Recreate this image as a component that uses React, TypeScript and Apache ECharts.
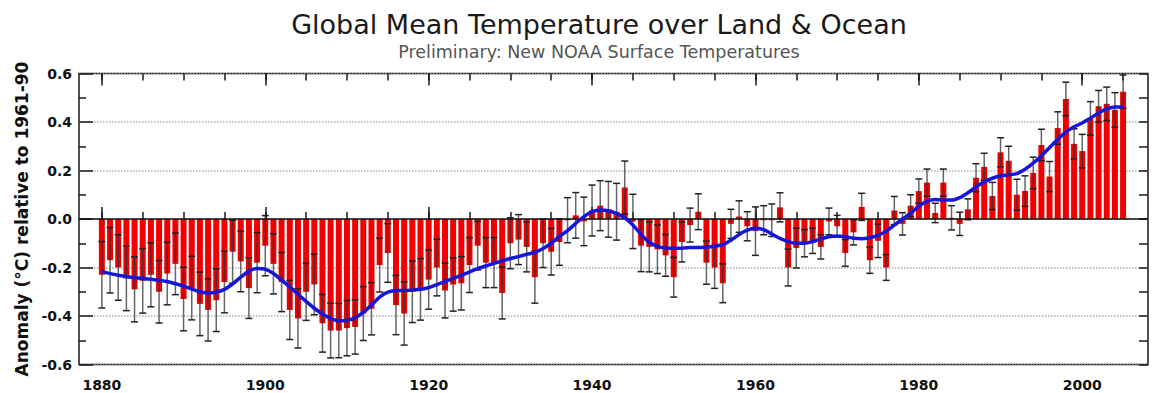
import React, { useEffect, useRef } from "react";
import * as echarts from "echarts";

// ---------- data ----------
const FIRST_YEAR = 1880;

// annual anomaly (°C, relative to 1961-90), 1880..2005
const anomalies = [
  -0.23, -0.17, -0.2, -0.245, -0.29, -0.255, -0.23, -0.3, -0.225, -0.185,
  -0.33, -0.285, -0.35, -0.375, -0.335, -0.26, -0.135, -0.175, -0.285, -0.18,
  -0.11, -0.185, -0.26, -0.375, -0.41, -0.3, -0.27, -0.43, -0.46, -0.46,
  -0.45, -0.445, -0.39, -0.37, -0.19, -0.14, -0.355, -0.39, -0.3, -0.29,
  -0.25, -0.2, -0.295, -0.27, -0.265, -0.19, -0.11, -0.18, -0.18, -0.305,
  -0.1, -0.085, -0.115, -0.24, -0.1, -0.135, -0.095, -0.005, 0.015, -0.01,
  0.035, 0.055, 0.04, 0.03, 0.13, -0.01, -0.11, -0.115, -0.125, -0.15,
  -0.24, -0.095, -0.025, 0.03, -0.18, -0.2, -0.265, -0.02, 0.01, -0.03,
  -0.05, -0.005, -0.005, 0.048, -0.2, -0.12, -0.1, -0.09, -0.115, -0.01,
  -0.03, -0.14, -0.055, 0.05, -0.17, -0.09, -0.2, 0.035, -0.02, 0.055,
  0.115, 0.15, 0.025, 0.15, 0.005, -0.02, 0.04, 0.17, 0.215, 0.095,
  0.275, 0.24, 0.1, 0.115, 0.19, 0.305, 0.175, 0.375, 0.495, 0.31,
  0.28, 0.415, 0.465, 0.475, 0.45, 0.525,
];

// half-width of the error bars, 1880..2005
const errors = [
  0.137, 0.135, 0.135, 0.133, 0.134, 0.133, 0.132, 0.129, 0.129, 0.127,
  0.131, 0.131, 0.131, 0.128, 0.129, 0.127, 0.13, 0.125, 0.125, 0.124,
  0.124, 0.124, 0.122, 0.122, 0.122, 0.118, 0.125, 0.119, 0.113, 0.112,
  0.114, 0.112, 0.111, 0.108, 0.111, 0.121, 0.122, 0.13, 0.127, 0.127,
  0.122, 0.117, 0.113, 0.11, 0.11, 0.113, 0.1, 0.103, 0.103, 0.107,
  0.105, 0.103, 0.103, 0.107, 0.1, 0.096, 0.096, 0.093, 0.094, 0.1,
  0.105, 0.103, 0.115, 0.117, 0.109, 0.112, 0.107, 0.103, 0.1, 0.086,
  0.082, 0.082, 0.07, 0.074, 0.089, 0.086, 0.08, 0.06, 0.065, 0.06,
  0.1, 0.06, 0.067, 0.06, 0.076, 0.082, 0.056, 0.052, 0.05, 0.055,
  0.045, 0.055, 0.052, 0.056, 0.054, 0.069, 0.053, 0.058, 0.046, 0.045,
  0.05, 0.056, 0.04, 0.056, 0.05, 0.048, 0.043, 0.058, 0.056, 0.056,
  0.06, 0.06, 0.064, 0.063, 0.065, 0.065, 0.062, 0.067, 0.069, 0.062,
  0.069, 0.069, 0.065, 0.069, 0.071, 0.069,
];

// smoothed curve (blue)
const smoothYears = [
  1880, 1882, 1884, 1886, 1888, 1890, 1892, 1893, 1894, 1895, 1896, 1897, 1898, 1899,
  1900, 1901, 1902, 1903, 1904, 1905, 1906, 1907, 1908, 1909, 1910, 1911, 1912, 1913,
  1914, 1915, 1916, 1917, 1918, 1919, 1920, 1922, 1924, 1926, 1928, 1930, 1932, 1933,
  1934, 1935, 1936, 1937, 1938, 1939, 1940, 1941, 1942, 1943, 1944, 1945, 1946, 1947,
  1948, 1949, 1950, 1952, 1954, 1955, 1956, 1957, 1958, 1959, 1960, 1961, 1962, 1963,
  1964, 1965, 1966, 1967, 1968, 1969, 1970, 1971, 1972, 1973, 1974, 1975, 1976, 1977,
  1978, 1979, 1980, 1981, 1982, 1983, 1984, 1985, 1986, 1987, 1988, 1989, 1990, 1991,
  1992, 1993, 1994, 1995, 1996, 1997, 1998, 1999, 2000, 2001, 2002, 2003, 2004, 2005,
];
const smoothValues = [
  -0.217, -0.232, -0.242, -0.248, -0.258, -0.277, -0.3, -0.305, -0.302, -0.29, -0.268, -0.24, -0.215, -0.204,
  -0.207, -0.225, -0.252, -0.28, -0.31, -0.34, -0.368, -0.392, -0.41, -0.42, -0.418, -0.408, -0.385, -0.355,
  -0.322, -0.302, -0.295, -0.295, -0.293, -0.29, -0.283, -0.258, -0.232, -0.205, -0.183, -0.163, -0.146, -0.138,
  -0.122, -0.1, -0.072, -0.048, -0.018, 0.01, 0.03, 0.037, 0.034, 0.022, 0.005, -0.025, -0.064, -0.096,
  -0.113, -0.12, -0.121, -0.118, -0.117, -0.112, -0.106, -0.088, -0.064, -0.046, -0.038, -0.044, -0.062, -0.08,
  -0.093, -0.1, -0.1, -0.093, -0.082, -0.073, -0.07, -0.073, -0.079, -0.081, -0.077, -0.068, -0.05, -0.025,
  0.0, 0.024, 0.053, 0.073, 0.08, 0.078, 0.078, 0.088, 0.108, 0.132, 0.153, 0.168, 0.178, 0.182,
  0.187, 0.205, 0.23, 0.26, 0.295, 0.328, 0.358, 0.38, 0.396, 0.416, 0.437, 0.454, 0.462, 0.462,
];

// tick positions / labels
const majorYears = [1880, 1900, 1920, 1940, 1960, 1980, 2000];
const minorYears = [
  1880, 1885, 1890, 1895, 1900, 1905, 1910, 1915, 1920, 1925, 1930, 1935, 1940,
  1945, 1950, 1955, 1960, 1965, 1970, 1975, 1980, 1985, 1990, 1995, 2000, 2005,
];
const yMin = -0.6;
const yMax = 0.6;

const TITLE = "Global Mean Temperature over Land & Ocean";
const SUBTITLE = "Preliminary: New NOAA Surface Temperatures";
const Y_NAME = "Anomaly (°C) relative to 1961-90";

// ---------- styling ----------
const FONT = "'DejaVu Sans', 'Liberation Sans', sans-serif";
const X_MIN = 1877.2;
const X_MAX = 2008.05;
const AXIS_COLOR = "#1a1a1a";
const tickLine = { color: AXIS_COLOR, width: 1.5 };

export default function App() {
  const ref = useRef<HTMLDivElement>(null);

  useEffect(() => {
    const chart = echarts.init(ref.current!, null, { renderer: "svg" });
    const years = anomalies.map((_, i) => FIRST_YEAR + i);

    const xBase = {
      type: "value",
      min: X_MIN,
      max: X_MAX,
      axisLine: { show: false },
      splitLine: { show: false },
    };

    const option: any = {
      animation: false,
      backgroundColor: "#ffffff",
      grid: {
        left: 79,
        right: 11,
        top: 73.5,
        bottom: 28.5,
        show: true,
        borderColor: AXIS_COLOR,
        borderWidth: 1.5,
        backgroundColor: "transparent",
      },
      graphic: [
        {
          type: "text",
          x: 599,
          y: 24,
          style: {
            text: TITLE,
            font: `27px ${FONT}`,
            fill: "#1a1a1a",
            textAlign: "center",
            textVerticalAlign: "middle",
          },
        },
        {
          type: "text",
          x: 599,
          y: 52,
          style: {
            text: SUBTITLE,
            font: `17.5px ${FONT}`,
            fill: "#555555",
            textAlign: "center",
            textVerticalAlign: "middle",
          },
        },
      ],
      xAxis: [
        {
          ...xBase,
          position: "bottom",
          axisTick: { show: true, inside: true, length: 12, customValues: majorYears, lineStyle: tickLine },
          axisLabel: {
            customValues: majorYears,
            formatter: (v: number) => String(Math.round(v)),
            margin: 13,
            fontFamily: FONT,
            fontWeight: "bold",
            fontSize: 14,
            color: "#111111",
          },
        },
        {
          ...xBase,
          position: "bottom",
          axisTick: { show: true, inside: true, length: 7, customValues: minorYears, lineStyle: tickLine },
          axisLabel: { show: false },
        },
        {
          ...xBase,
          position: "top",
          axisTick: { show: true, inside: true, length: 12, customValues: majorYears, lineStyle: tickLine },
          axisLabel: { show: false },
        },
        {
          ...xBase,
          position: "top",
          axisTick: { show: true, inside: true, length: 7, customValues: minorYears, lineStyle: tickLine },
          axisLabel: { show: false },
        },
      ],
      yAxis: [
        {
          type: "value",
          position: "left",
          min: yMin,
          max: yMax,
          interval: 0.2,
          axisLine: { show: false },
          axisTick: { show: true, inside: true, length: 14, lineStyle: tickLine },
          minorTick: { show: true, splitNumber: 2, length: 7, lineStyle: tickLine },
          axisLabel: {
            formatter: (v: number) => (Math.abs(v) < 1e-9 ? "0.0" : v.toFixed(1)),
            margin: 7,
            fontFamily: FONT,
            fontWeight: "bold",
            fontSize: 14,
            color: "#111111",
          },
          splitLine: { show: true, lineStyle: { type: "dotted", color: "#b0b0b0", width: 1.5 } },
          name: Y_NAME,
          nameLocation: "middle",
          nameGap: 48,
          nameTextStyle: { fontFamily: FONT, fontWeight: "bold", fontSize: 17, color: "#111111" },
        },
        {
          type: "value",
          position: "right",
          min: yMin,
          max: yMax,
          interval: 0.1,
          axisLine: { show: false },
          axisTick: { show: true, inside: true, length: 9, lineStyle: tickLine },
          axisLabel: { show: false },
          splitLine: { show: false },
        },
      ],
      series: [
        {
          type: "bar",
          xAxisIndex: 0,
          yAxisIndex: 0,
          barWidth: 6,
          z: 2,
          itemStyle: { color: "#f20000" },
          data: years.map((y, i) => [y, anomalies[i]]),
          markLine: {
            silent: true,
            symbol: "none",
            z: 5,
            label: { show: false },
            lineStyle: { color: "#111111", width: 1.5, type: "solid" },
            data: [{ yAxis: 0 }],
          },
        },
        {
          type: "custom",
          xAxisIndex: 0,
          yAxisIndex: 0,
          z: 3,
          encode: { x: 0, y: [1, 2] },
          data: years.map((y, i) => [y, anomalies[i] - errors[i], anomalies[i] + errors[i]]),
          renderItem: (params: any, api: any) => {
            const x = api.value(0);
            const lo = api.coord([x, api.value(1)]);
            const hi = api.coord([x, api.value(2)]);
            const w = 3.5;
            return {
              type: "group",
              children: [
                {
                  type: "line",
                  shape: { x1: lo[0], y1: lo[1], x2: hi[0], y2: hi[1] },
                  style: { stroke: "#333333", lineWidth: 1.5, opacity: 0.75 },
                },
                {
                  type: "line",
                  shape: { x1: lo[0] - w, y1: lo[1], x2: lo[0] + w, y2: lo[1] },
                  style: { stroke: "#222222", lineWidth: 1.5 },
                },
                {
                  type: "line",
                  shape: { x1: hi[0] - w, y1: hi[1], x2: hi[0] + w, y2: hi[1] },
                  style: { stroke: "#222222", lineWidth: 1.5 },
                },
              ],
            };
          },
        },
        {
          type: "line",
          xAxisIndex: 0,
          yAxisIndex: 0,
          z: 6,
          smooth: 0.3,
          showSymbol: false,
          symbol: "none",
          lineStyle: { color: "#1616d8", width: 3.5 },
          data: smoothYears.map((y, i) => [y, smoothValues[i]]),
        },
      ],
    };

    chart.setOption(option);
    return () => chart.dispose();
  }, []);

  return (
    <div
      ref={ref}
      style={{ position: "fixed", left: 0, top: 0, width: 1159, height: 393, background: "#ffffff" }}
    />
  );
}
